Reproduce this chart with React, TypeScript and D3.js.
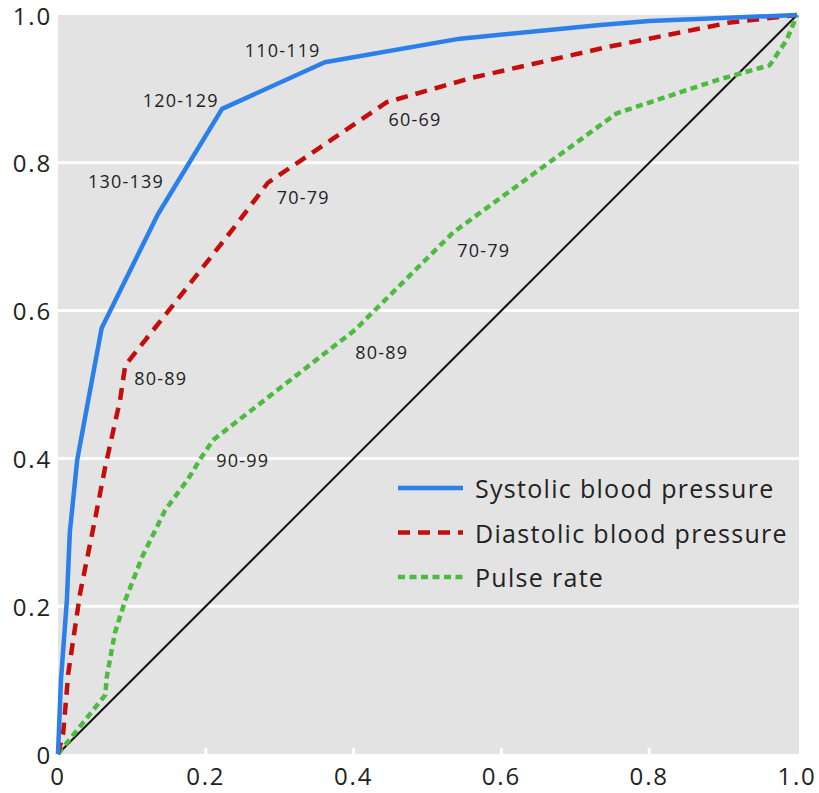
import React from "react";
import * as d3 from "d3";

type P = [number, number];

const systolic: P[] = [
  [0, 0], [0.004, 0.1], [0.012, 0.208], [0.016, 0.3], [0.026, 0.398], [0.041, 0.479],
  [0.059, 0.576], [0.135, 0.73], [0.222, 0.873], [0.361, 0.936], [0.544, 0.968],
  [0.73, 0.986], [0.8, 0.992], [1, 1],
];
const diastolic: P[] = [
  [0, 0], [0.007, 0.028], [0.014, 0.11], [0.03, 0.218], [0.05, 0.317], [0.064, 0.389],
  [0.084, 0.479], [0.091, 0.526], [0.161, 0.614], [0.241, 0.716], [0.284, 0.773],
  [0.445, 0.882], [0.56, 0.915], [0.745, 0.957], [0.91, 0.99], [1, 1],
];
const pulse: P[] = [
  [0, 0], [0.064, 0.08], [0.066, 0.104], [0.077, 0.164], [0.091, 0.208], [0.114, 0.267],
  [0.145, 0.33], [0.176, 0.372], [0.195, 0.403], [0.21, 0.425], [0.402, 0.574],
  [0.535, 0.706], [0.756, 0.867], [0.892, 0.912], [0.963, 0.932], [0.986, 0.966], [1, 1],
];
const reference: P[] = [[0, 0], [1, 1]];

const ticks = [0, 0.2, 0.4, 0.6, 0.8, 1.0];
const tickLabels = ["0", "0.2", "0.4", "0.6", "0.8", "1.0"];

type Lab = { text: string; x: number; y: number };
const labels: Lab[] = [
  { text: "110-119", x: 0.304, y: 0.952 },
  { text: "120-129", x: 0.166, y: 0.885 },
  { text: "130-139", x: 0.092, y: 0.776 },
  { text: "80-89", x: 0.139, y: 0.509 },
  { text: "70-79", x: 0.332, y: 0.754 },
  { text: "60-69", x: 0.483, y: 0.859 },
  { text: "90-99", x: 0.25, y: 0.398 },
  { text: "80-89", x: 0.438, y: 0.544 },
  { text: "70-79", x: 0.576, y: 0.682 },
];

const seriesNames = ["Systolic blood pressure", "Diastolic blood pressure", "Pulse rate"];

const W = 819, H = 793;
const L = 58, R = 797, T = 15, B = 754;
const FONT = "'Open Sans', sans-serif";

export default function App() {
  const x = d3.scaleLinear().domain([0, 1]).range([L, R]);
  const y = d3.scaleLinear().domain([0, 1]).range([B, T]);
  const line = d3.line<P>().x((d) => x(d[0])).y((d) => y(d[1]));

  const styles = [
    { data: systolic, color: "#2a7fe8", width: 4.5, dash: undefined as string | undefined },
    { data: diastolic, color: "#c40d0d", width: 4.5, dash: "12 8" },
    { data: pulse, color: "#4cbb3f", width: 4.5, dash: "7 4.5" },
  ];

  return (
    <svg width={W} height={H} style={{ position: "absolute", left: 0, top: 0, background: "#fff" }}>
      <rect x={L} y={T} width={R - L + 2} height={B - T} fill="#e3e3e3" />
      {ticks.slice(1, 5).map((t) => (
        <line key={"g" + t} x1={L} x2={R + 2} y1={y(t)} y2={y(t)} stroke="#fff" strokeWidth={3} />
      ))}
      {ticks.slice(1, 5).map((t) => (
        <line key={"xt" + t} x1={x(t)} x2={x(t)} y1={B} y2={B - 6} stroke="#fff" strokeWidth={3} />
      ))}
      <path d={line(reference) || ""} fill="none" stroke="#111" strokeWidth={2} />
      {styles.slice().reverse().map((s, i) => (
        <path
          key={"s" + i}
          d={line(s.data) || ""}
          fill="none"
          stroke={s.color}
          strokeWidth={s.width}
          strokeDasharray={s.dash}
          strokeLinejoin="round"
        />
      ))}
      {labels.map((l, i) => (
        <text
          key={"l" + i}
          x={x(l.x)}
          y={y(l.y)}
          textAnchor="middle"
          dominantBaseline="central"
          fontFamily={FONT}
          fontSize={18}
          letterSpacing={1.2}
          fill="#222"
        >
          {l.text}
        </text>
      ))}
      {ticks.map((t, i) => (
        <text
          key={"yl" + t}
          x={52}
          y={y(t)}
          textAnchor="end"
          dominantBaseline="central"
          fontFamily={FONT}
          fontSize={24}
          letterSpacing={1.8}
          fill="#222"
        >
          {tickLabels[i]}
        </text>
      ))}
      {ticks.map((t, i) => (
        <text
          key={"xl" + t}
          x={x(t)}
          y={775}
          textAnchor="middle"
          dominantBaseline="central"
          fontFamily={FONT}
          fontSize={24}
          letterSpacing={1.8}
          fill="#222"
        >
          {tickLabels[i]}
        </text>
      ))}
      {seriesNames.map((n, i) => {
        const ly = 488 + i * 44.5;
        const s = styles[i];
        return (
          <g key={"lg" + i}>
            <line x1={398} x2={463} y1={ly} y2={ly} stroke={s.color} strokeWidth={4.5} strokeDasharray={s.dash} />
            <text x={475} y={ly} dominantBaseline="central" fontFamily={FONT} fontSize={25} letterSpacing={1.3} fill="#222">
              {n}
            </text>
          </g>
        );
      })}
    </svg>
  );
}
